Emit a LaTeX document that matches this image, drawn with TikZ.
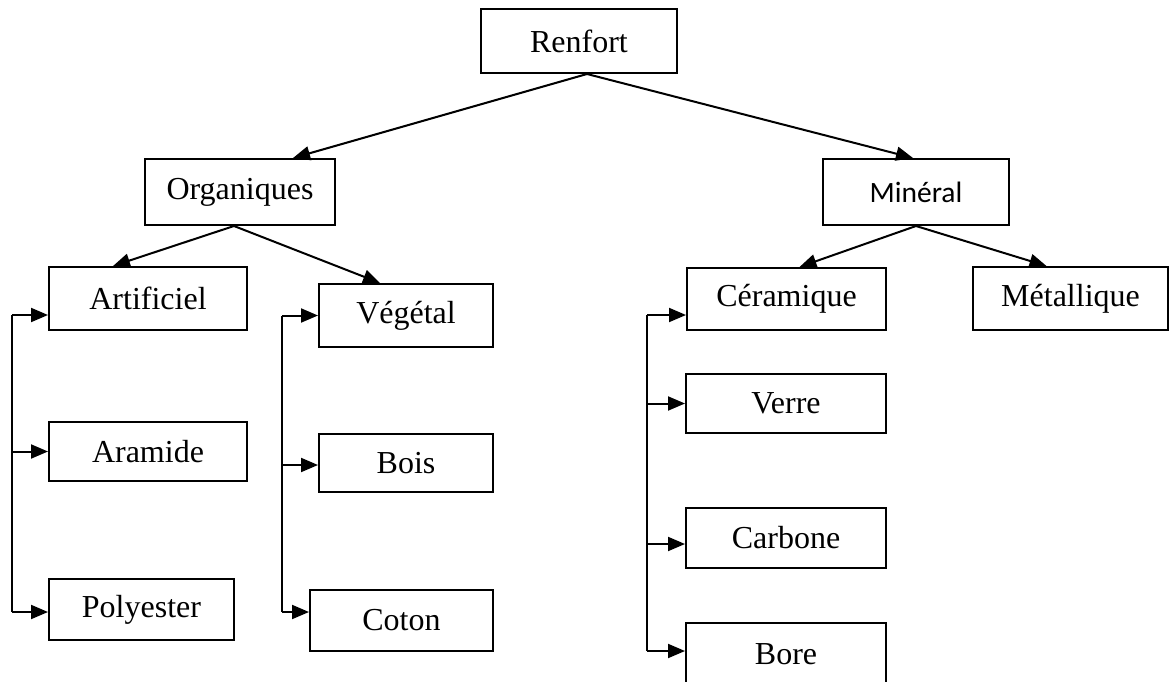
\documentclass[tikz,border=0pt]{standalone}
\usepackage{fontspec}
\setmainfont{Liberation Serif}
\newfontfamily\calibrifont{Carlito}
\usetikzlibrary{arrows.meta,calc}

\tikzset{
  box/.style={draw, line width=2pt, rectangle, inner sep=0pt,
    font=\fontsize{32}{36}\selectfont},
  link/.style={line width=2pt, -{Triangle[length=17pt,width=14pt]}},
  rail/.style={line width=2pt}
}

% place a box by its corners: name, left, top, right, bottom, text
\newcommand\boxat[6]{%
  \node[box, minimum width={(#4-#2)*1pt}, minimum height={(#5-#3)*1pt}]
    (#1) at ({(#2+#4)/2},{(#3+#5)/2}) {#6};}

\begin{document}
\begin{tikzpicture}[x=1pt,y=-1pt]
  \useasboundingbox (0,0) rectangle (1170,682);
  \fill[white] (0,0) rectangle (1170,682);

  % top level
  \boxat{ren}{481}{9}{677}{73}{Renfort}
  \boxat{org}{145}{159}{335}{225}{Organiques}
  \boxat{min}{823}{159}{1009}{225}{\fontsize{29.5}{34}\calibrifont Minéral}

  % organic branch
  \boxat{art}{49}{267}{247}{330}{Artificiel}
  \boxat{ara}{49}{422}{247}{481}{Aramide}
  \boxat{pol}{49}{579}{234}{640}{Polyester}
  \boxat{veg}{319}{284}{493}{347}{Végétal}
  \boxat{boi}{319}{434}{493}{492}{Bois}
  \boxat{cot}{310}{590}{493}{651}{Coton}

  % mineral branch
  \boxat{cer}{687}{268}{886}{330}{Céramique}
  \boxat{ver}{686}{374}{886}{433}{Verre}
  \boxat{car}{686}{508}{886}{568}{Carbone}
  \boxat{bor}{686}{623}{886}{685}{Bore}
  \boxat{met}{973}{267}{1168}{330}{Métallique}

  % tree links
  \draw[link] ([xshift=8pt]ren.south) -- ([xshift=53pt]org.north);
  \draw[link] ([xshift=8pt]ren.south) -- ([xshift=-3pt]min.north);
  \draw[link] ([xshift=-6pt]org.south) -- ([xshift=-35pt]art.north);
  \draw[link] ([xshift=-6pt]org.south) -- ([xshift=-26pt]veg.north);
  \draw[link] (min.south) -- ([xshift=13pt]cer.north);
  \draw[link] (min.south) -- ([xshift=-24pt]met.north);

  % side rails
  \coordinate (railL) at (12,0);
  \coordinate (railM) at (282,0);
  \coordinate (railR) at (647,0);

  \coordinate (pArt) at ([yshift=-16.5pt]art.west);
  \coordinate (pAra) at (ara.west);
  \coordinate (pPol) at ([yshift=-2.5pt]pol.west);
  \coordinate (pVeg) at (veg.west);
  \coordinate (pBoi) at ([yshift=-2pt]boi.west);
  \coordinate (pCot) at ([yshift=8.5pt]cot.west);
  \coordinate (pCer) at ([yshift=-16pt]cer.west);
  \coordinate (pVer) at (ver.west);
  \coordinate (pCar) at ([yshift=-6pt]car.west);
  \coordinate (pBor) at ([yshift=3pt]bor.west);

  \draw[rail] (pArt -| railL) -- (pPol -| railL);
  \draw[link] (pArt -| railL) -- (pArt);
  \draw[link] (pAra -| railL) -- (pAra);
  \draw[link] (pPol -| railL) -- (pPol);

  \draw[rail] (pVeg -| railM) -- (pCot -| railM);
  \draw[link] (pVeg -| railM) -- (pVeg);
  \draw[link] (pBoi -| railM) -- (pBoi);
  \draw[link] (pCot -| railM) -- (pCot);

  \draw[rail] (pCer -| railR) -- (pBor -| railR);
  \draw[link] (pCer -| railR) -- (pCer);
  \draw[link] (pVer -| railR) -- (pVer);
  \draw[link] (pCar -| railR) -- (pCar);
  \draw[link] (pBor -| railR) -- (pBor);
\end{tikzpicture}
\end{document}
